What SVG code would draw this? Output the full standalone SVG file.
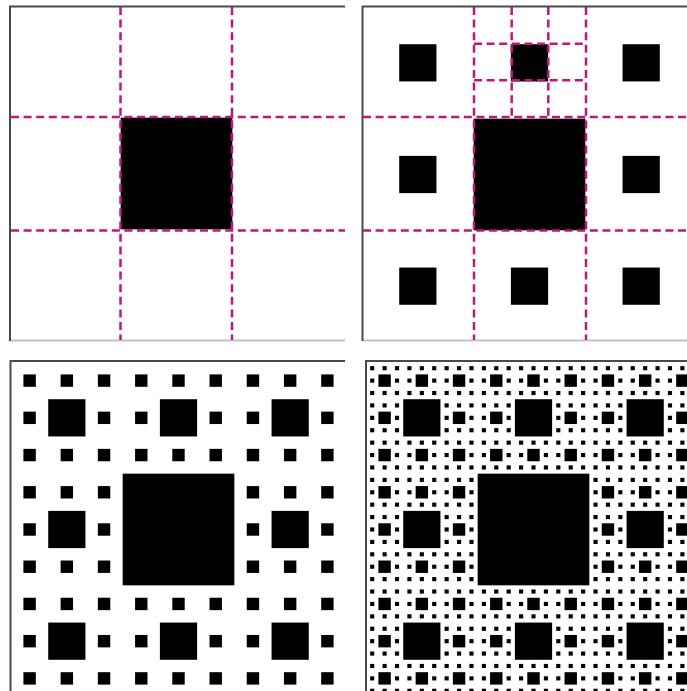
<svg xmlns="http://www.w3.org/2000/svg" xmlns:xlink="http://www.w3.org/1999/xlink" width="687" height="691" viewBox="0 0 687 691">
<style>
.dash{stroke:#c0157f;stroke-width:2.5;stroke-dasharray:8 4.6;fill:none}
.ftop{stroke:#4a4a4a;stroke-width:2;fill:none}
.fbot{stroke:#c4c4c4;stroke-width:2;fill:none}
</style>
<defs>
<filter id="soft" x="-5%" y="-5%" width="110%" height="110%"><feGaussianBlur stdDeviation="0.6"/></filter>
<rect id="c1" x="111.667" y="111.667" width="111.667" height="111.667" fill="#000"/>
<g id="c2">
<use href="#c1"/>
<use href="#c1" transform="translate(0,0) scale(0.333333)"/>
<use href="#c1" transform="translate(111.667,0) scale(0.333333)"/>
<use href="#c1" transform="translate(223.333,0) scale(0.333333)"/>
<use href="#c1" transform="translate(0,111.667) scale(0.333333)"/>
<use href="#c1" transform="translate(223.333,111.667) scale(0.333333)"/>
<use href="#c1" transform="translate(0,223.333) scale(0.333333)"/>
<use href="#c1" transform="translate(111.667,223.333) scale(0.333333)"/>
<use href="#c1" transform="translate(223.333,223.333) scale(0.333333)"/>
</g>
<g id="c3">
<use href="#c1"/>
<use href="#c2" transform="translate(0,0) scale(0.333333)"/>
<use href="#c2" transform="translate(111.667,0) scale(0.333333)"/>
<use href="#c2" transform="translate(223.333,0) scale(0.333333)"/>
<use href="#c2" transform="translate(0,111.667) scale(0.333333)"/>
<use href="#c2" transform="translate(223.333,111.667) scale(0.333333)"/>
<use href="#c2" transform="translate(0,223.333) scale(0.333333)"/>
<use href="#c2" transform="translate(111.667,223.333) scale(0.333333)"/>
<use href="#c2" transform="translate(223.333,223.333) scale(0.333333)"/>
</g>
<g id="c4">
<use href="#c1"/>
<use href="#c3" transform="translate(0,0) scale(0.333333)"/>
<use href="#c3" transform="translate(111.667,0) scale(0.333333)"/>
<use href="#c3" transform="translate(223.333,0) scale(0.333333)"/>
<use href="#c3" transform="translate(0,111.667) scale(0.333333)"/>
<use href="#c3" transform="translate(223.333,111.667) scale(0.333333)"/>
<use href="#c3" transform="translate(0,223.333) scale(0.333333)"/>
<use href="#c3" transform="translate(111.667,223.333) scale(0.333333)"/>
<use href="#c3" transform="translate(223.333,223.333) scale(0.333333)"/>
</g>
</defs>
<rect width="687" height="691" fill="#fff"/>

<g id="panel1">
<g filter="url(#soft)"><use href="#c1" transform="translate(9,6)"/></g>
<path class="fbot" d="M10 340.5H345"/>
<path class="ftop" d="M9 6.5H345M10 6V341"/>
<path class="dash" d="M120.5 7V340M232 7V340M11 117H345M11 230.5H345"/>
</g>

<g id="panel2">
<g filter="url(#soft)"><use href="#c2" transform="translate(362,7)"/></g>
<path class="fbot" d="M363 340.5H687"/>
<path class="ftop" d="M362 6.5H687M362.5 6V341"/>
<path class="dash" d="M474 7V340M586 7V340M363 117H687M363 230.5H687M511.7 7V117M548.3 7V117M474 43.7H586M474 80.3H586"/>
</g>

<g id="panel3">
<g filter="url(#soft)"><use href="#c3" transform="translate(11,362)"/></g>
<path class="ftop" d="M10 361H345M10.5 360V691"/>
</g>

<g id="panel4">
<g filter="url(#soft)"><use href="#c4" transform="translate(366,362)"/></g>
<path class="ftop" d="M365 361H687M366 360V691"/>
</g>
</svg>
